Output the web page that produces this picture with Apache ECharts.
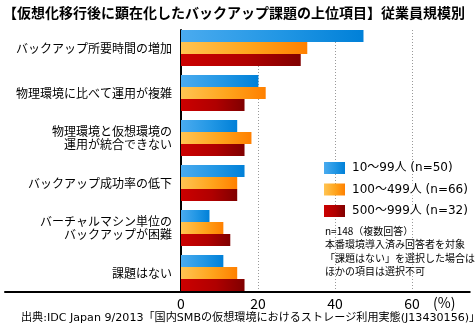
<!DOCTYPE html>
<html><head><meta charset="utf-8">
<script src="https://cdn.jsdelivr.net/npm/echarts@6/dist/echarts.min.js"></script>
<style>html,body{margin:0;padding:0;background:#fff}#c{width:476px;height:330px}</style>
</head><body><div id="c"></div>
<script>
const titleText = '【仮想化移行後に顕在化したバックアップ課題の上位項目】従業員規模別';
const categories = [
  'バックアップ所要時間の増加',
  '物理環境に比べて運用が複雑',
  '物理環境と仮想環境の\n運用が統合できない',
  'バックアップ成功率の低下',
  'バーチャルマシン単位の\nバックアップが困難',
  '課題はない'
];
const seriesNames = ['10〜99人 (n=50)', '100〜499人 (n=66)', '500〜999人 (n=32)'];
const small  = [47.4, 20.1, 14.6, 16.5, 7.4, 11.0];
const medium = [32.8, 22.0, 18.3, 14.6, 11.0, 14.6];
const large  = [31.1, 16.5, 16.5, 14.6, 12.8, 16.5];
const xTickLabels = [0, 20, 40, 60];
const unitLabel = '(%)';
const noteLines = ['n=148（複数回答）', '本番環境導入済み回答者を対象', '「課題はない」を選択した場合は', 'ほかの項目は選択不可'];
const sourceText = '出典:IDC Japan 9/2013「国内SMBの仮想環境におけるストレージ利用実態(J13430156)」';

const FONT = '"Noto Sans CJK JP", "Noto Sans", sans-serif';
const WIDE = '"DejaVu Sans", "Noto Sans CJK JP", sans-serif';
const grad = (a, b, c) => new echarts.graphic.LinearGradient(0, 0, 1, 0, [
  {offset: 0, color: a}, {offset: 0.55, color: b}, {offset: 1, color: c}]);
const colors = [
  grad('#4aabef', '#2196e4', '#0080d8'),
  grad('#ffc452', '#ffa41c', '#ff8000'),
  grad('#cc0000', '#b00000', '#800000')
];
const dataSets = [small, medium, large];

const chart = echarts.init(document.getElementById('c'), null, {renderer: 'canvas'});
const plotW = 288.75;
chart.setOption({
  animation: false,
  backgroundColor: '#fff',
  textStyle: {fontFamily: FONT},
  title: [
    {text: titleText, left: 3, top: 5, padding: 0,
     textStyle: {fontFamily: FONT, fontSize: 14, fontWeight: 'bold', color: '#000', lineHeight: 16}},
    {text: noteLines.join('\n'), left: 325, top: 224, padding: 0,
     textStyle: {fontFamily: FONT, fontSize: 10, fontWeight: 'normal', color: '#000', lineHeight: 13.6, backgroundColor: '#fff'}},
    {text: unitLabel, left: 433, top: 296, padding: 0,
     textStyle: {fontFamily: FONT, fontSize: 14, fontWeight: 'normal', color: '#000', lineHeight: 14}},
    {text: sourceText, left: 21, top: 312, padding: 0,
     textStyle: {fontFamily: WIDE, fontSize: 11.1, fontWeight: 'normal', color: '#000', lineHeight: 12}}
  ],
  legend: {
    orient: 'vertical', left: 324, top: 162, padding: 0,
    itemWidth: 21, itemHeight: 12, itemGap: 9.5, icon: 'rect',
    data: seriesNames,
    textStyle: {fontFamily: WIDE, fontSize: 12, color: '#000', lineHeight: 12, padding: [0, 0, 0, 2], backgroundColor: '#fff'}
  },
  grid: [
    {left: 181, width: plotW, top: 25.5, height: 270},
    {left: 181, width: plotW, top: 30, height: 261.5},
    {left: 5, width: 176, top: 30, height: 261.5}
  ],
  xAxis: [
    {gridIndex: 0, type: 'value', min: 0, max: 75, show: false},
    {gridIndex: 1, type: 'value', min: 0, max: 75, interval: 20,
     axisLine: {show: true, lineStyle: {color: '#000', width: 2}},
     axisTick: {show: false},
     splitLine: {show: true, showMinLine: false, showMaxLine: false, lineStyle: {color: '#999', width: 1, type: [1, 2]}},
     axisLabel: {show: true, showMaxLabel: false, margin: 5, fontFamily: FONT, fontSize: 14, color: '#000',
       formatter: v => xTickLabels.includes(v) ? String(v) : ''}},
    {gridIndex: 2, type: 'value', min: 0, max: 1,
     axisLine: {show: true, lineStyle: {color: '#000', width: 2}},
     axisTick: {show: false}, axisLabel: {show: false}, splitLine: {show: false}}
  ],
  yAxis: [
    {gridIndex: 0, type: 'category', inverse: true, data: categories,
     axisLine: {show: false}, axisTick: {show: false}, splitLine: {show: false},
     axisLabel: {margin: 9, fontFamily: FONT, fontSize: 12, color: '#000', lineHeight: 13.5, align: 'right'}},
    {gridIndex: 1, type: 'value', min: 0, max: 1,
     axisLine: {show: true, lineStyle: {color: '#000', width: 2}},
     axisTick: {show: false}, axisLabel: {show: false}, splitLine: {show: false}},
    {gridIndex: 2, type: 'value', min: 0, max: 1, show: false}
  ],
  series: seriesNames.map((name, i) => ({
    name, type: 'bar', xAxisIndex: 0, yAxisIndex: 0,
    barWidth: 12, barGap: '0%',
    itemStyle: {color: colors[i]},
    data: dataSets[i]
  }))
});
</script></body></html>
